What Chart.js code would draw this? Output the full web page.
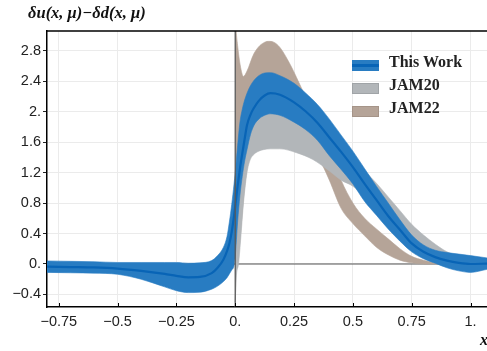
<!DOCTYPE html>
<html>
<head>
<meta charset="utf-8">
<script src="https://cdn.jsdelivr.net/npm/chart.js@4.4.0/dist/chart.umd.min.js"></script>
<style>
  html, body { margin: 0; padding: 0; background: #fff; overflow: hidden; }
  #wrap { position: relative; width: 487px; height: 351px; overflow: hidden; }
  #title { position: absolute; left: 28px; top: 3px; font: bold italic 16.5px "Liberation Serif", serif; color: #111; white-space: nowrap; }
  #xlab { position: absolute; left: 480px; top: 331px; font: bold italic 16px "Liberation Serif", serif; color: #111; }
  .sw { position: absolute; left: 352px; width: 27px; height: 10px; box-sizing: border-box; }
  .lt { position: absolute; left: 389px; font: bold 16px "Liberation Serif", serif; line-height: 16px; color: #222; white-space: nowrap; }
</style>
</head>
<body>
<div id="wrap">
  <canvas id="chart" width="487" height="351"></canvas>
  <div id="title">δu(x, μ)−δd(x, μ)</div>
  <div id="xlab">x</div>
  <div class="sw" style="top:60px;height:11px;background:rgb(40,124,194);"><div style="position:absolute;left:0;right:0;top:4px;height:3px;background:rgb(8,100,182);"></div></div>
  <div class="lt" style="top:54px;">This Work</div>
  <div class="sw" style="top:83px;height:11px;background:rgb(178,182,185);border:1px solid rgb(160,164,167);"></div>
  <div class="lt" style="top:77px;">JAM20</div>
  <div class="sw" style="top:106px;height:11px;background:rgb(181,164,152);border:1px solid rgb(165,148,136);"></div>
  <div class="lt" style="top:100px;">JAM22</div>
</div>
<script>
// ===== DATA =====
const xTicks = [-0.75, -0.5, -0.25, 0, 0.25, 0.5, 0.75, 1];
const yTicks = [-0.4, 0, 0.4, 0.8, 1.2, 1.6, 2, 2.4, 2.8];

// This Work (central value + band)
const thisWorkX = [-0.8, -0.7, -0.6, -0.5, -0.4, -0.3, -0.25, -0.2, -0.15, -0.1, -0.075, -0.05, -0.035, -0.025, -0.015, -0.005,
  0, 0.01, 0.02, 0.03, 0.04, 0.05, 0.065, 0.08, 0.1, 0.125, 0.15, 0.19, 0.25, 0.3, 0.35, 0.4, 0.45, 0.5, 0.55, 0.6, 0.65,
  0.7, 0.75, 0.8, 0.85, 0.9, 0.95, 1.0, 1.07];
const thisWorkMid = [-0.035, -0.04, -0.045, -0.06, -0.09, -0.13, -0.155, -0.175, -0.17, -0.12, -0.05, 0.06, 0.17, 0.27, 0.42, 0.63,
  0.76, 1.02, 1.25, 1.45, 1.64, 1.82, 1.96, 2.05, 2.14, 2.21, 2.24, 2.22, 2.12, 2.0, 1.85, 1.66, 1.47, 1.27, 1.05, 0.84, 0.63,
  0.45, 0.27, 0.16, 0.09, 0.045, 0.015, 0.0, 0.005];
const thisWorkHi = [0.04, 0.035, 0.03, 0.02, 0.02, 0.02, 0.02, 0.01, 0.015, 0.045, 0.11, 0.22, 0.36, 0.55, 0.78, 1.05,
  1.2, 1.55, 1.86, 2.03, 2.15, 2.24, 2.34, 2.41, 2.47, 2.505, 2.51, 2.47, 2.37, 2.24, 2.09, 1.9, 1.69, 1.48, 1.25, 1.02, 0.8,
  0.58, 0.38, 0.25, 0.18, 0.15, 0.13, 0.11, 0.08];
const thisWorkLo = [-0.11, -0.115, -0.12, -0.135, -0.2, -0.3, -0.35, -0.375, -0.37, -0.33, -0.29, -0.23, -0.18, -0.13, -0.08, -0.02,
  0.1, 0.55, 0.9, 1.15, 1.35, 1.5, 1.7, 1.82, 1.9, 1.95, 1.97, 1.95, 1.86, 1.76, 1.62, 1.42, 1.24, 1.05, 0.82, 0.64, 0.46,
  0.3, 0.16, 0.07, 0.01, -0.05, -0.09, -0.11, -0.07];

// JAM20 band
const jam20X  = [0, 0.005, 0.014, 0.024, 0.035, 0.05, 0.064, 0.08, 0.1, 0.12, 0.15, 0.19, 0.26, 0.33, 0.4, 0.45, 0.5,
  0.55, 0.6, 0.65, 0.7, 0.75, 0.8, 0.85, 0.9, 0.95, 1.0, 1.07];
const jam20Hi = [0.6, 1.0, 1.5, 1.8, 1.95, 2.05, 2.15, 2.2, 2.25, 2.28, 2.3, 2.3, 2.2, 2.0, 1.75, 1.55, 1.38,
  1.22, 1.06, 0.88, 0.7, 0.52, 0.38, 0.26, 0.16, 0.1, 0.06, 0.03];
const jam20Lo = [-0.5, -0.15, 0.0, 0.36, 0.8, 1.2, 1.37, 1.44, 1.48, 1.5, 1.51, 1.51, 1.46, 1.37, 1.22, 1.1, 1.02,
  0.88, 0.72, 0.56, 0.4, 0.26, 0.16, 0.1, 0.06, 0.04, 0.02, 0.01];

// JAM22 band
const jam22X  = [0, 0.003, 0.01, 0.021, 0.035, 0.05, 0.078, 0.1, 0.12, 0.14, 0.163, 0.19, 0.233, 0.26, 0.29, 0.33, 0.37,
  0.4, 0.45, 0.5, 0.55, 0.6, 0.65, 0.7, 0.75, 0.8, 0.85, 0.9];
const jam22Hi = [3.3, 3.1, 2.87, 2.61, 2.46, 2.53, 2.75, 2.85, 2.9, 2.92, 2.91, 2.84, 2.62, 2.45, 2.25, 1.98, 1.7,
  1.5, 1.1, 0.8, 0.6, 0.46, 0.33, 0.2, 0.1, 0.05, 0.02, 0.01];
const jam22Lo = [-0.5, -0.2, 0.0, 0.35, 0.85, 1.25, 1.5, 1.6, 1.68, 1.73, 1.76, 1.77, 1.76, 1.72, 1.64, 1.5, 1.3,
  1.1, 0.73, 0.53, 0.37, 0.22, 0.12, 0.05, 0.015, 0.0, 0.0, 0.0];

// ===== STYLE =====
const BLUE = 'rgb(40,124,194)';
const BLUE_LINE = 'rgb(8,100,182)';
const GRAY = 'rgb(178,182,185)';
const BROWN = 'rgb(181,164,152)';

const pts = (xs, ys) => xs.map((x, i) => ({ x, y: ys[i] }));
const fmt = v => (Number.isInteger(v) ? v + '.' : String(v)).replace('-', '\u2212');

const band = (xs, ys, color, fill) => ({
  data: pts(xs, ys),
  borderColor: color,
  borderWidth: 0.6,
  backgroundColor: color,
  fill: fill,
  pointRadius: 0,
  cubicInterpolationMode: 'monotone'
});

const frame = {
  id: 'frame',
  beforeDatasetsDraw(chart) {
    const { ctx, chartArea: a, scales: { y } } = chart;
    const y0 = y.getPixelForValue(0);
    ctx.save();
    ctx.strokeStyle = '#555';
    ctx.lineWidth = 1.2;
    ctx.beginPath(); ctx.moveTo(a.left, y0); ctx.lineTo(a.right, y0); ctx.stroke();
    ctx.restore();
  },
  afterDatasetsDraw(chart) {
    const { ctx, chartArea: a, scales: { x } } = chart;
    const x0 = x.getPixelForValue(0);
    ctx.save();
    ctx.strokeStyle = '#5a5a5a';
    ctx.lineWidth = 1.3;
    ctx.beginPath(); ctx.moveTo(x0, a.top); ctx.lineTo(x0, a.bottom); ctx.stroke();
    // top border
    ctx.strokeStyle = '#000';
    ctx.lineWidth = 1.5;
    ctx.beginPath(); ctx.moveTo(a.left, a.top); ctx.lineTo(a.right, a.top); ctx.stroke();
    // inward ticks on the x axis
    ctx.lineWidth = 1;
    xTicks.forEach(v => {
      const px = Math.round(x.getPixelForValue(v)) + 0.5;
      ctx.beginPath(); ctx.moveTo(px, a.bottom); ctx.lineTo(px, a.bottom - 4); ctx.stroke();
    });
    ctx.restore();
  }
};

new Chart(document.getElementById('chart'), {
  type: 'line',
  data: {
    datasets: [
      { data: pts(thisWorkX, thisWorkMid), borderColor: BLUE_LINE, borderWidth: 2.2, fill: false, pointRadius: 0, cubicInterpolationMode: 'monotone' },
      band(thisWorkX, thisWorkHi, BLUE, '+1'),
      band(thisWorkX, thisWorkLo, BLUE, false),
      band(jam20X, jam20Hi, GRAY, '+1'),
      band(jam20X, jam20Lo, GRAY, false),
      band(jam22X, jam22Hi, BROWN, '+1'),
      band(jam22X, jam22Lo, BROWN, false)
    ]
  },
  options: {
    responsive: false,
    animation: false,
    layout: { padding: { top: 31, right: 0, left: 0, bottom: 0 } },
    plugins: { legend: { display: false }, tooltip: { enabled: false } },
    scales: {
      x: {
        type: 'linear',
        min: -0.8,
        max: 1.07,
        afterBuildTicks: axis => { axis.ticks = xTicks.map(v => ({ value: v })); },
        afterFit: axis => { axis.height = 44; },
        grid: { color: '#ebebeb', drawTicks: false },
        border: { color: '#000', width: 1.5 },
        ticks: { padding: 6, color: '#222', font: { family: 'Liberation Sans', size: 14.5 }, callback: v => fmt(v), maxRotation: 0, autoSkip: false }
      },
      y: {
        type: 'linear',
        min: -0.564,
        max: 3.056,
        afterBuildTicks: axis => { axis.ticks = yTicks.map(v => ({ value: v })); },
        afterFit: axis => { axis.width = 47; },
        grid: { color: '#ebebeb', tickLength: 4, tickColor: '#222' },
        border: { color: '#000', width: 1.5 },
        ticks: { padding: 2, color: '#222', font: { family: 'Liberation Sans', size: 14.5 }, callback: v => fmt(v), autoSkip: false }
      }
    }
  },
  plugins: [frame]
});
</script>
</body>
</html>
